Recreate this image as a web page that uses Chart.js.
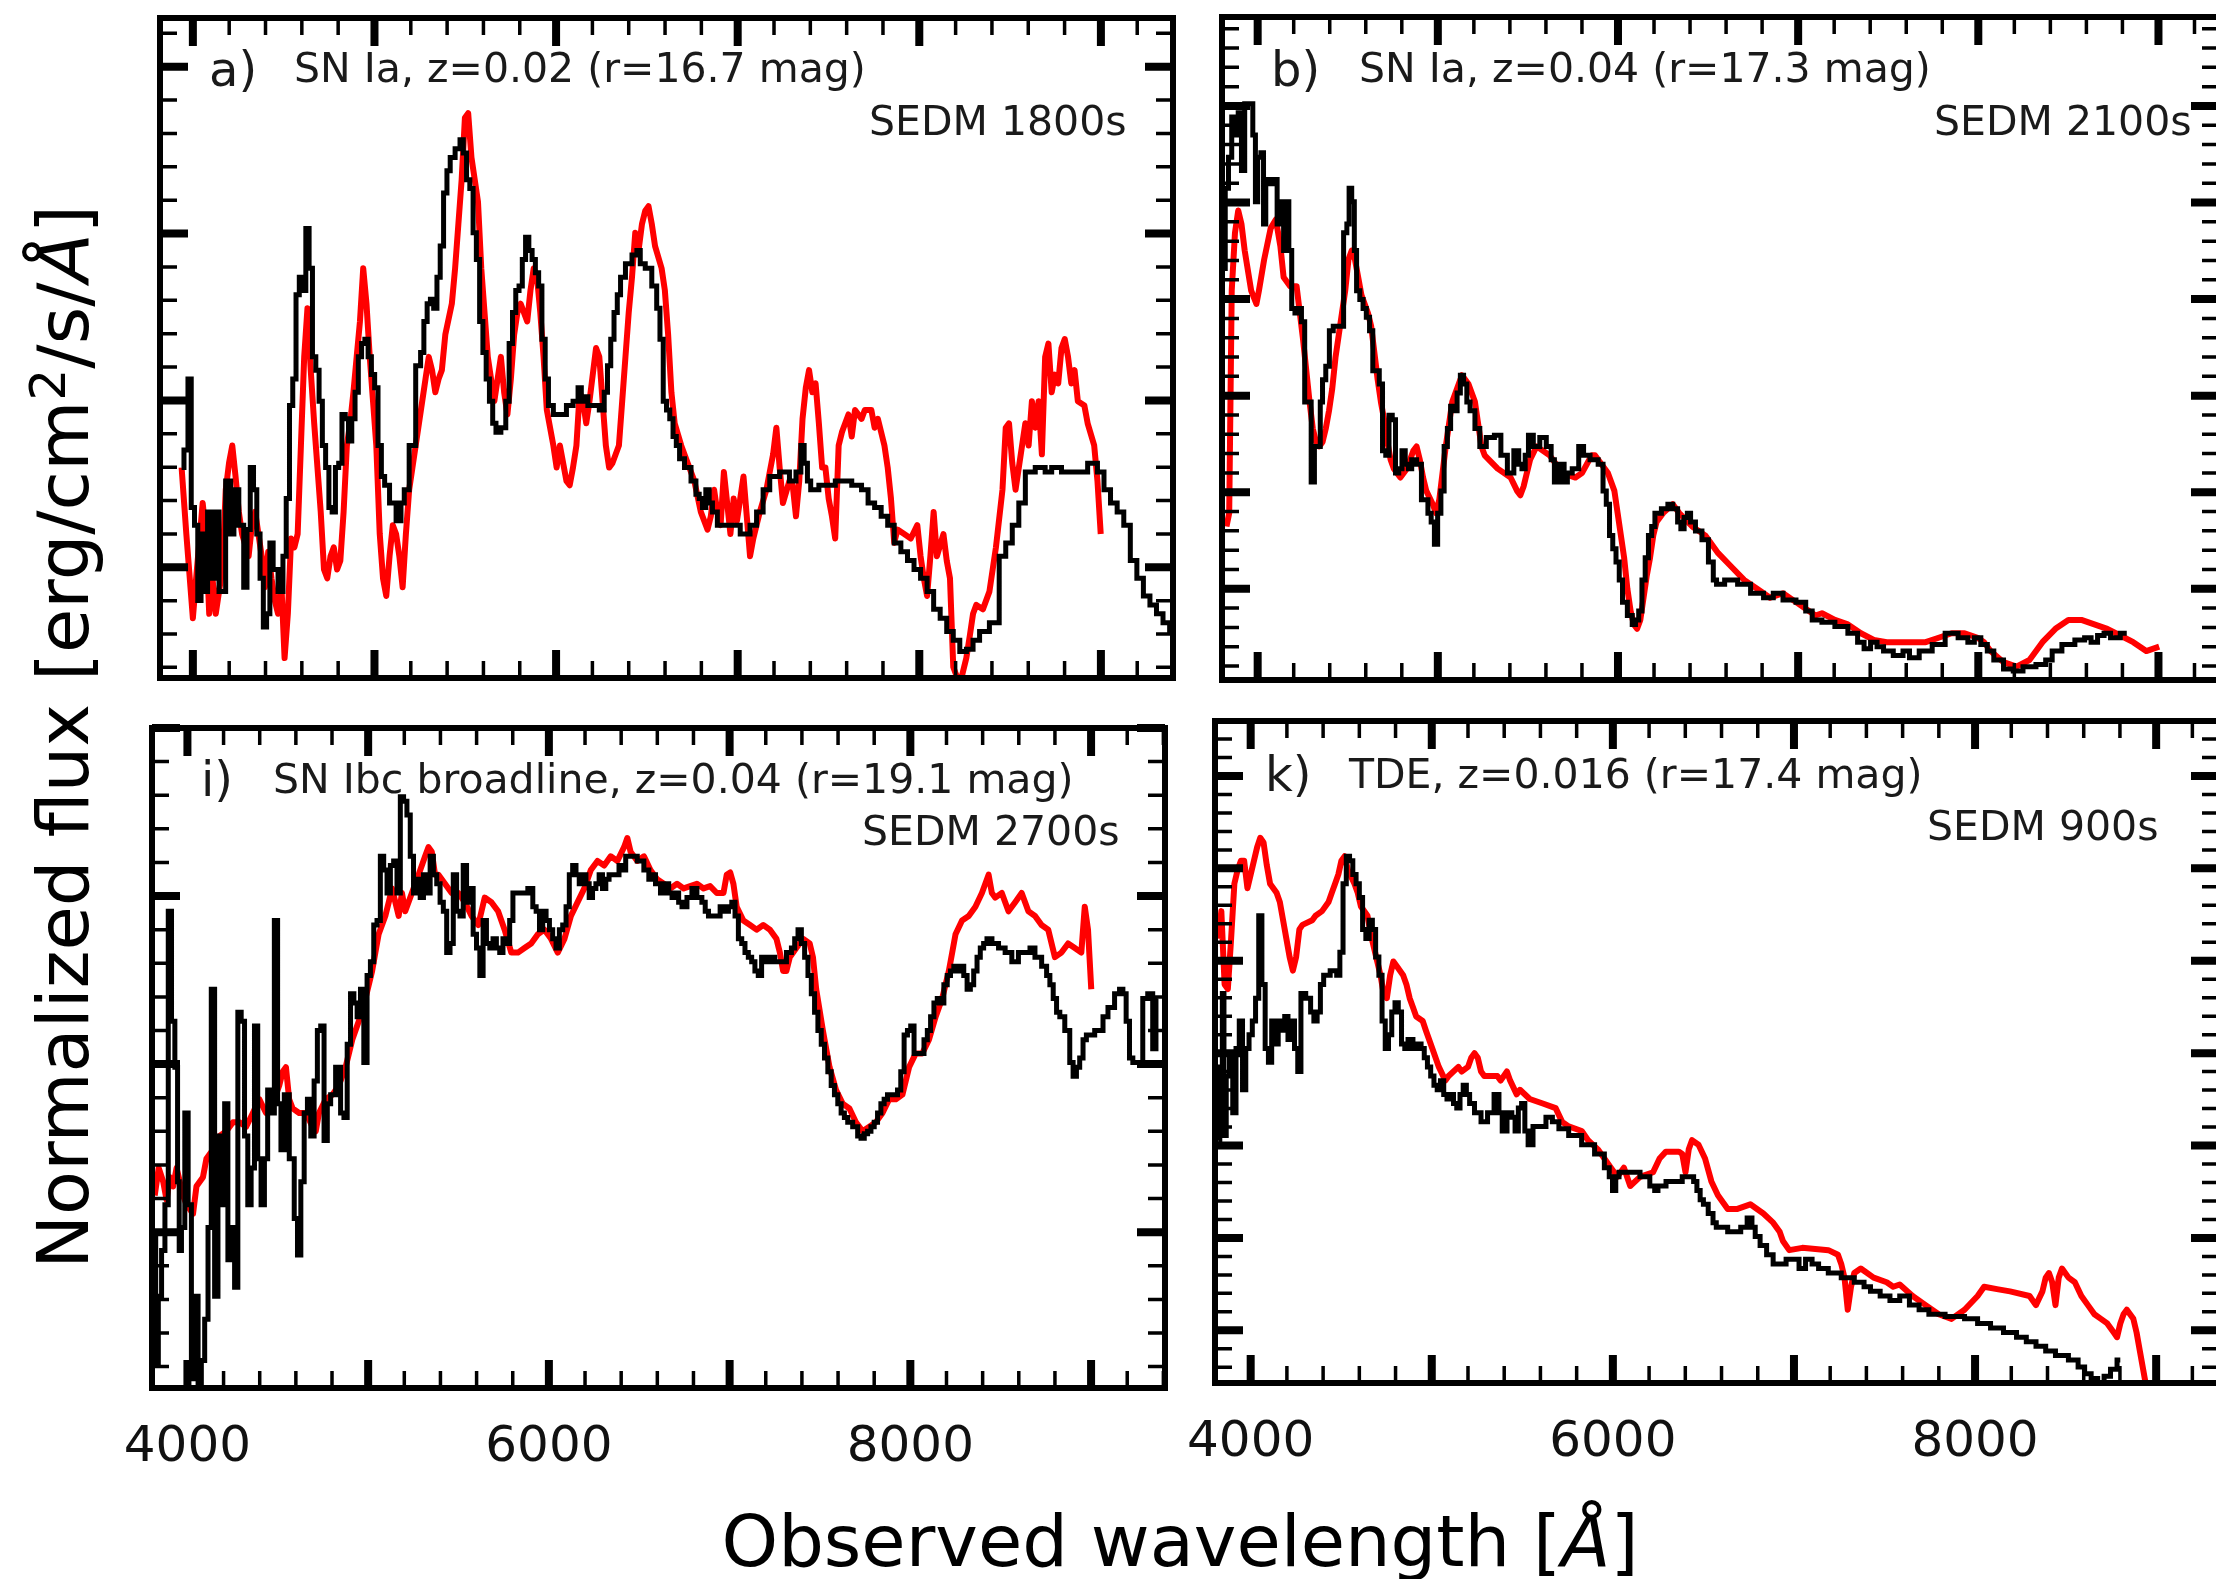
<!DOCTYPE html>
<html><head><meta charset="utf-8">
<script src="https://cdn.jsdelivr.net/npm/chart.js@4.4.1/dist/chart.umd.min.js"></script>
<style>
html,body{margin:0;padding:0;width:2216px;height:1579px;overflow:hidden;background:#fff;}
canvas{position:absolute;}
.t{position:absolute;white-space:nowrap;color:#1a1a1a;font-family:'DejaVu Sans';line-height:1;z-index:5;}
sup{font-size:0.7em;vertical-align:0.45em;line-height:0;}
</style></head><body>
<script>
// ---------------- DATA (wavelength [Å], normalized flux) ----------------
const xTickLabels = [4000, 6000, 8000];

const aSedm = [[3938,0.475],[3964,0.515],[3982,0.675],[4000,0.385],[4018,0.345],[4036,0.175],[4054,0.325],[4072,0.195],[4090,0.375],[4108,0.225],[4126,0.375],[4162,0.195],[4199,0.445],[4217,0.325],[4235,0.425],[4271,0.345],[4289,0.205],[4307,0.335],[4325,0.475],[4343,0.425],[4361,0.325],[4379,0.225],[4397,0.115],[4415,0.145],[4433,0.305],[4451,0.245],[4487,0.195],[4505,0.275],[4523,0.405],[4541,0.615],[4559,0.675],[4577,0.865],[4595,0.905],[4613,0.875],[4631,1.015],[4649,0.925],[4668,0.725],[4686,0.695],[4704,0.625],[4722,0.525],[4740,0.475],[4758,0.385],[4776,0.375],[4794,0.475],[4812,0.485],[4830,0.595],[4848,0.585],[4866,0.535],[4884,0.585],[4902,0.645],[4920,0.725],[4938,0.755],[4956,0.765],[4974,0.725],[4992,0.685],[5010,0.655],[5029,0.525],[5047,0.455],[5065,0.435],[5101,0.395],[5137,0.355],[5155,0.395],[5173,0.425],[5209,0.525],[5245,0.705],[5263,0.735],[5281,0.805],[5299,0.845],[5317,0.855],[5335,0.835],[5353,0.905],[5371,0.975],[5390,1.095],[5408,1.145],[5426,1.175],[5462,1.195],[5480,1.215],[5498,1.185],[5516,1.125],[5534,1.105],[5552,1.005],[5570,0.945],[5588,0.805],[5606,0.735],[5624,0.675],[5642,0.625],[5660,0.575],[5678,0.555],[5714,0.565],[5732,0.625],[5751,0.755],[5769,0.825],[5787,0.875],[5805,0.885],[5823,0.945],[5841,0.995],[5859,0.965],[5877,0.945],[5895,0.915],[5913,0.885],[5931,0.765],[5949,0.675],[5967,0.615],[6003,0.595],[6039,0.595],[6075,0.615],[6112,0.625],[6130,0.655],[6148,0.625],[6166,0.635],[6184,0.615],[6220,0.615],[6256,0.605],[6274,0.645],[6292,0.705],[6310,0.765],[6328,0.825],[6346,0.865],[6364,0.905],[6400,0.935],[6436,0.955],[6454,0.965],[6473,0.935],[6509,0.925],[6545,0.885],[6563,0.835],[6581,0.765],[6599,0.625],[6617,0.605],[6635,0.585],[6653,0.545],[6671,0.525],[6689,0.495],[6725,0.475],[6761,0.445],[6779,0.415],[6797,0.405],[6815,0.385],[6834,0.425],[6852,0.395],[6870,0.375],[6906,0.345],[6978,0.345],[7050,0.325],[7086,0.345],[7122,0.375],[7158,0.425],[7195,0.455],[7267,0.465],[7303,0.445],[7339,0.465],[7357,0.525],[7375,0.485],[7393,0.445],[7411,0.425],[7483,0.435],[7592,0.445],[7664,0.435],[7700,0.425],[7736,0.395],[7772,0.385],[7808,0.365],[7844,0.345],[7880,0.305],[7917,0.285],[7953,0.265],[7989,0.245],[8025,0.225],[8061,0.195],[8097,0.155],[8133,0.135],[8169,0.105],[8205,0.085],[8241,0.060],[8278,0.065],[8314,0.085],[8350,0.105],[8422,0.125],[8458,0.275],[8494,0.305],[8530,0.345],[8566,0.395],[8602,0.465],[8675,0.475],[8711,0.465],[8747,0.475],[8819,0.465],[8891,0.465],[8963,0.485],[8999,0.465],[9035,0.425],[9071,0.395],[9108,0.375],[9144,0.345],[9180,0.265],[9216,0.225],[9252,0.185],[9288,0.165],[9324,0.145],[9360,0.125],[9397,0.105]];

const aModel = [[3938,0.475],[3964,0.325],[4000,0.135],[4018,0.225],[4054,0.395],[4072,0.325],[4090,0.145],[4108,0.225],[4126,0.145],[4162,0.245],[4181,0.425],[4199,0.485],[4217,0.525],[4235,0.455],[4253,0.375],[4271,0.325],[4307,0.275],[4325,0.345],[4343,0.375],[4361,0.325],[4379,0.275],[4397,0.205],[4415,0.285],[4433,0.225],[4451,0.175],[4469,0.145],[4487,0.215],[4505,0.045],[4523,0.145],[4541,0.315],[4559,0.295],[4577,0.325],[4595,0.525],[4613,0.725],[4631,0.835],[4649,0.695],[4668,0.575],[4686,0.475],[4704,0.375],[4722,0.245],[4740,0.225],[4758,0.275],[4776,0.295],[4794,0.245],[4812,0.265],[4830,0.375],[4848,0.525],[4866,0.575],[4884,0.645],[4902,0.725],[4920,0.805],[4938,0.925],[4956,0.845],[4974,0.725],[4992,0.625],[5010,0.525],[5029,0.325],[5047,0.225],[5065,0.185],[5083,0.275],[5101,0.345],[5119,0.325],[5137,0.275],[5155,0.205],[5173,0.325],[5191,0.425],[5209,0.475],[5245,0.575],[5281,0.675],[5299,0.725],[5317,0.695],[5335,0.645],[5353,0.675],[5371,0.695],[5390,0.775],[5426,0.845],[5444,0.925],[5462,1.025],[5480,1.125],[5498,1.265],[5516,1.275],[5534,1.175],[5552,1.125],[5570,1.075],[5588,0.925],[5606,0.825],[5624,0.725],[5660,0.625],[5678,0.675],[5696,0.725],[5714,0.645],[5732,0.595],[5751,0.675],[5769,0.775],[5787,0.825],[5805,0.845],[5841,0.805],[5859,0.875],[5877,0.925],[5895,0.905],[5913,0.825],[5931,0.725],[5949,0.605],[5985,0.525],[6003,0.475],[6021,0.525],[6057,0.445],[6075,0.435],[6093,0.475],[6112,0.525],[6130,0.645],[6148,0.625],[6166,0.575],[6184,0.625],[6220,0.745],[6238,0.725],[6256,0.625],[6274,0.525],[6292,0.475],[6310,0.485],[6346,0.525],[6364,0.625],[6382,0.725],[6400,0.825],[6418,0.905],[6436,1.005],[6454,0.965],[6473,1.025],[6491,1.055],[6509,1.065],[6527,1.025],[6545,0.975],[6581,0.925],[6599,0.875],[6617,0.775],[6635,0.645],[6653,0.575],[6689,0.525],[6725,0.485],[6761,0.445],[6797,0.375],[6834,0.335],[6852,0.365],[6870,0.425],[6888,0.375],[6906,0.345],[6924,0.465],[6942,0.395],[6960,0.325],[6978,0.405],[6996,0.355],[7014,0.405],[7032,0.455],[7050,0.365],[7068,0.275],[7086,0.315],[7122,0.375],[7158,0.425],[7195,0.505],[7213,0.565],[7231,0.475],[7249,0.395],[7285,0.445],[7303,0.435],[7321,0.365],[7339,0.445],[7357,0.585],[7375,0.655],[7393,0.695],[7411,0.645],[7429,0.665],[7447,0.575],[7465,0.475],[7483,0.475],[7501,0.405],[7519,0.365],[7537,0.315],[7556,0.525],[7574,0.555],[7592,0.575],[7610,0.595],[7628,0.545],[7646,0.605],[7682,0.585],[7700,0.605],[7736,0.605],[7754,0.565],[7772,0.585],[7808,0.525],[7826,0.475],[7844,0.405],[7862,0.305],[7880,0.335],[7917,0.325],[7953,0.315],[7989,0.345],[8007,0.275],[8025,0.225],[8043,0.185],[8061,0.275],[8079,0.375],[8097,0.275],[8133,0.325],[8151,0.265],[8169,0.225],[8187,0.025],[8223,-0.015],[8259,0.045],[8278,0.095],[8296,0.145],[8314,0.165],[8350,0.155],[8386,0.195],[8422,0.295],[8458,0.425],[8476,0.565],[8494,0.575],[8512,0.485],[8530,0.425],[8548,0.475],[8584,0.575],[8602,0.525],[8620,0.625],[8639,0.565],[8657,0.625],[8675,0.505],[8693,0.725],[8711,0.755],[8729,0.645],[8747,0.685],[8765,0.665],[8783,0.745],[8801,0.765],[8819,0.725],[8837,0.665],[8855,0.695],[8873,0.625],[8909,0.615],[8927,0.575],[8963,0.525],[8981,0.445],[8999,0.325]];

const bSedm = [[3813,0.925],[3827,1.105],[3849,1.175],[3863,1.265],[3885,1.225],[3899,1.275],[3921,1.145],[3935,1.295],[3964,1.295],[3982,1.225],[3993,1.075],[4007,1.175],[4029,1.185],[4036,1.025],[4054,1.125],[4072,1.115],[4101,1.125],[4115,1.025],[4137,1.075],[4151,0.965],[4166,1.075],[4180,0.965],[4198,0.835],[4216,0.825],[4234,0.835],[4252,0.805],[4270,0.625],[4288,0.625],[4306,0.445],[4324,0.525],[4342,0.525],[4353,0.625],[4367,0.675],[4389,0.705],[4407,0.785],[4432,0.795],[4468,0.795],[4486,1.005],[4504,1.025],[4511,1.105],[4533,1.075],[4540,0.965],[4558,0.875],[4576,0.855],[4594,0.835],[4612,0.815],[4630,0.785],[4648,0.695],[4666,0.695],[4684,0.665],[4702,0.515],[4720,0.505],[4738,0.595],[4756,0.585],[4774,0.465],[4792,0.475],[4810,0.515],[4828,0.485],[4846,0.475],[4864,0.495],[4900,0.485],[4918,0.405],[4936,0.405],[4954,0.375],[4972,0.355],[4990,0.305],[5008,0.375],[5026,0.425],[5044,0.525],[5062,0.565],[5080,0.615],[5098,0.605],[5116,0.645],[5134,0.685],[5152,0.665],[5170,0.625],[5188,0.605],[5224,0.565],[5242,0.525],[5296,0.545],[5332,0.55],[5368,0.505],[5404,0.465],[5440,0.515],[5458,0.485],[5476,0.475],[5494,0.505],[5512,0.55],[5548,0.525],[5584,0.545],[5620,0.525],[5638,0.495],[5656,0.445],[5692,0.485],[5710,0.445],[5728,0.465],[5764,0.475],[5800,0.525],[5818,0.505],[5872,0.495],[5908,0.485],[5926,0.425],[5944,0.395],[5962,0.325],[5980,0.295],[5998,0.265],[6016,0.225],[6034,0.175],[6070,0.145],[6088,0.125],[6106,0.135],[6124,0.155],[6142,0.225],[6160,0.275],[6178,0.325],[6196,0.345],[6214,0.375],[6268,0.385],[6286,0.395],[6322,0.385],[6340,0.355],[6358,0.34],[6376,0.365],[6394,0.375],[6412,0.355],[6448,0.335],[6484,0.315],[6520,0.265],[6538,0.225],[6556,0.215],[6628,0.225],[6700,0.215],[6772,0.195],[6844,0.185],[6880,0.195],[6952,0.18],[7024,0.175],[7060,0.155],[7096,0.135],[7168,0.13],[7240,0.12],[7312,0.105],[7348,0.085],[7384,0.07],[7420,0.085],[7456,0.075],[7492,0.065],[7564,0.055],[7600,0.065],[7636,0.05],[7708,0.065],[7780,0.08],[7852,0.105],[7924,0.095],[7960,0.085],[7996,0.095],[8032,0.08],[8068,0.065],[8104,0.045],[8176,0.025],[8212,0.02],[8284,0.03],[8356,0.035],[8392,0.045],[8428,0.065],[8500,0.08],[8572,0.09],[8608,0.095],[8644,0.085],[8680,0.1],[8716,0.105],[8752,0.095],[8824,0.105]];

const bModel = [[3827,0.345],[3842,0.375],[3849,0.625],[3856,0.875],[3874,1.005],[3892,1.055],[3910,1.025],[3928,0.965],[3964,0.875],[3993,0.845],[4007,0.875],[4036,0.945],[4072,1.015],[4101,1.035],[4126,0.975],[4144,0.905],[4180,0.885],[4216,0.885],[4234,0.825],[4252,0.765],[4270,0.695],[4288,0.625],[4306,0.565],[4324,0.535],[4342,0.525],[4360,0.535],[4378,0.565],[4396,0.605],[4414,0.655],[4432,0.725],[4450,0.775],[4468,0.825],[4486,0.875],[4504,0.945],[4522,0.965],[4540,0.945],[4558,0.905],[4576,0.865],[4612,0.825],[4630,0.795],[4648,0.735],[4666,0.675],[4684,0.625],[4702,0.585],[4720,0.535],[4738,0.495],[4756,0.475],[4792,0.455],[4828,0.475],[4864,0.515],[4882,0.525],[4900,0.495],[4918,0.455],[4936,0.425],[4972,0.395],[4990,0.375],[5008,0.405],[5026,0.465],[5044,0.525],[5062,0.575],[5080,0.625],[5116,0.665],[5134,0.685],[5170,0.665],[5206,0.625],[5224,0.575],[5242,0.525],[5260,0.505],[5332,0.475],[5404,0.455],[5440,0.425],[5458,0.415],[5476,0.435],[5512,0.495],[5548,0.525],[5620,0.505],[5692,0.465],[5764,0.455],[5800,0.465],[5854,0.505],[5872,0.505],[5944,0.465],[5980,0.425],[5998,0.375],[6016,0.325],[6034,0.275],[6052,0.205],[6070,0.155],[6088,0.125],[6106,0.115],[6124,0.135],[6142,0.185],[6160,0.235],[6178,0.275],[6196,0.325],[6214,0.355],[6250,0.375],[6304,0.395],[6340,0.375],[6412,0.345],[6484,0.325],[6520,0.305],[6556,0.285],[6628,0.255],[6700,0.225],[6772,0.205],[6844,0.185],[6916,0.195],[6988,0.175],[7060,0.155],[7096,0.145],[7132,0.15],[7204,0.135],[7276,0.125],[7348,0.105],[7420,0.09],[7492,0.085],[7708,0.085],[7780,0.095],[7852,0.105],[7924,0.105],[7996,0.095],[8032,0.085],[8068,0.065],[8140,0.04],[8212,0.03],[8284,0.045],[8356,0.085],[8428,0.115],[8500,0.135],[8572,0.135],[8644,0.125],[8716,0.115],[8788,0.1],[8860,0.085],[8932,0.065],[8968,0.07],[9004,0.075]];

const iSedm = [[3819,0.33],[3830,0.05],[3848,0.2],[3866,0.3],[3885,0.4],[3903,1.04],[3921,0.8],[3940,0.7],[3951,0.45],[3958,0.3],[3976,0.35],[3995,0.6],[4013,0.4],[4031,0.02],[4050,0.2],[4068,0.0],[4086,0.06],[4105,0.15],[4123,0.35],[4141,0.87],[4160,0.2],[4178,0.55],[4197,0.4],[4215,0.62],[4233,0.28],[4252,0.35],[4270,0.22],[4288,0.82],[4307,0.8],[4325,0.55],[4343,0.4],[4362,0.48],[4380,0.79],[4398,0.5],[4417,0.4],[4435,0.5],[4453,0.65],[4472,0.6],[4490,1.02],[4508,0.62],[4527,0.52],[4545,0.64],[4582,0.5],[4600,0.37],[4618,0.29],[4637,0.45],[4655,0.6],[4673,0.63],[4692,0.55],[4710,0.67],[4728,0.78],[4747,0.79],[4765,0.54],[4783,0.62],[4802,0.64],[4838,0.7],[4857,0.6],[4875,0.59],[4893,0.75],[4912,0.86],[4930,0.84],[4948,0.81],[4967,0.87],[4985,0.71],[5003,0.9],[5022,0.93],[5040,1.01],[5058,1.02],[5077,1.16],[5095,1.13],[5114,1.08],[5132,1.14],[5150,1.15],[5169,1.08],[5187,1.29],[5205,1.28],[5224,1.25],[5242,1.16],[5260,1.08],[5279,1.11],[5297,1.07],[5315,1.12],[5334,1.08],[5352,1.16],[5370,1.12],[5389,1.1],[5407,1.06],[5425,1.04],[5444,0.95],[5462,0.97],[5480,1.12],[5499,1.04],[5517,1.03],[5535,1.14],[5554,1.06],[5572,1.09],[5590,0.99],[5609,0.96],[5627,0.9],[5645,1.02],[5664,0.97],[5682,0.96],[5700,0.98],[5719,0.96],[5737,0.95],[5755,0.98],[5774,0.97],[5792,1.02],[5810,1.08],[5865,1.08],[5902,1.09],[5920,1.05],[5939,1.04],[5957,1.0],[5975,1.04],[5994,1.02],[6012,1.0],[6030,0.98],[6049,0.96],[6067,1.0],[6086,1.01],[6104,1.05],[6122,1.12],[6141,1.14],[6159,1.12],[6177,1.1],[6196,1.12],[6214,1.1],[6232,1.07],[6251,1.09],[6269,1.1],[6287,1.12],[6306,1.09],[6324,1.11],[6342,1.12],[6379,1.12],[6397,1.14],[6416,1.13],[6434,1.16],[6471,1.16],[6507,1.15],[6544,1.13],[6562,1.11],[6581,1.12],[6599,1.1],[6636,1.08],[6654,1.1],[6672,1.08],[6691,1.07],[6709,1.08],[6727,1.06],[6746,1.05],[6782,1.07],[6801,1.09],[6837,1.07],[6856,1.06],[6874,1.04],[6892,1.03],[6929,1.03],[6966,1.05],[6984,1.04],[7003,1.05],[7021,1.06],[7039,1.03],[7058,0.98],[7076,0.97],[7094,0.95],[7113,0.94],[7131,0.93],[7149,0.91],[7168,0.9],[7186,0.94],[7223,0.93],[7241,0.94],[7259,0.93],[7296,0.93],[7333,0.95],[7351,0.96],[7369,0.98],[7388,1.0],[7406,0.97],[7424,0.94],[7443,0.9],[7461,0.86],[7479,0.82],[7498,0.78],[7516,0.75],[7534,0.72],[7553,0.69],[7571,0.66],[7589,0.64],[7608,0.62],[7626,0.6],[7644,0.59],[7663,0.58],[7699,0.57],[7718,0.55],[7736,0.545],[7754,0.555],[7773,0.56],[7791,0.57],[7809,0.58],[7828,0.6],[7846,0.62],[7864,0.63],[7883,0.64],[7920,0.64],[7938,0.65],[7956,0.69],[7975,0.77],[7993,0.78],[8011,0.79],[8030,0.73],[8066,0.73],[8085,0.76],[8103,0.78],[8121,0.81],[8140,0.84],[8158,0.85],[8176,0.84],[8195,0.88],[8213,0.9],[8231,0.91],[8250,0.92],[8268,0.91],[8286,0.92],[8305,0.9],[8323,0.87],[8341,0.88],[8360,0.91],[8378,0.94],[8396,0.96],[8415,0.97],[8433,0.98],[8470,0.97],[8506,0.96],[8543,0.95],[8580,0.93],[8616,0.95],[8653,0.95],[8671,0.96],[8708,0.94],[8745,0.92],[8763,0.9],[8781,0.88],[8800,0.85],[8818,0.82],[8836,0.81],[8873,0.78],[8891,0.71],[8910,0.68],[8928,0.7],[8946,0.72],[8965,0.76],[8983,0.77],[9057,0.78],[9075,0.81],[9112,0.83],[9148,0.86],[9167,0.87],[9185,0.86],[9203,0.8],[9222,0.72],[9240,0.71],[9277,0.71],[9295,0.85],[9332,0.86],[9350,0.74],[9368,0.85]];

const iModel = [[3819,0.42],[3841,0.48],[3866,0.45],[3885,0.41],[3903,0.46],[3921,0.44],[3940,0.48],[3958,0.45],[3976,0.42],[3995,0.4],[4031,0.38],[4050,0.44],[4086,0.46],[4105,0.5],[4141,0.52],[4178,0.55],[4215,0.56],[4252,0.58],[4288,0.58],[4325,0.57],[4362,0.6],[4398,0.63],[4435,0.6],[4472,0.62],[4508,0.66],[4527,0.69],[4545,0.7],[4563,0.63],[4582,0.61],[4618,0.6],[4655,0.6],[4692,0.57],[4710,0.56],[4728,0.6],[4765,0.63],[4802,0.64],[4838,0.66],[4875,0.7],[4912,0.76],[4948,0.8],[4985,0.85],[5022,0.91],[5040,0.95],[5058,0.99],[5095,1.03],[5114,1.06],[5132,1.09],[5169,1.03],[5187,1.08],[5205,1.04],[5242,1.08],[5279,1.12],[5315,1.16],[5334,1.18],[5352,1.17],[5370,1.12],[5389,1.12],[5425,1.1],[5462,1.08],[5499,1.08],[5535,1.06],[5572,1.03],[5609,1.01],[5627,1.04],[5645,1.07],[5682,1.06],[5719,1.04],[5755,1.0],[5792,0.95],[5829,0.95],[5865,0.96],[5902,0.97],[5939,0.99],[5975,1.0],[6012,0.98],[6049,0.95],[6086,0.98],[6122,1.03],[6159,1.06],[6196,1.09],[6232,1.13],[6269,1.15],[6306,1.14],[6342,1.16],[6379,1.15],[6416,1.18],[6434,1.2],[6452,1.17],[6489,1.15],[6526,1.16],[6562,1.13],[6599,1.11],[6636,1.1],[6672,1.09],[6709,1.1],[6746,1.09],[6782,1.095],[6819,1.1],[6856,1.09],[6892,1.095],[6929,1.08],[6966,1.08],[6984,1.12],[7003,1.125],[7021,1.1],[7039,1.05],[7076,1.02],[7113,1.01],[7149,1.0],[7186,1.01],[7223,1.0],[7259,0.98],[7278,0.95],[7296,0.91],[7314,0.91],[7333,0.94],[7369,0.96],[7406,0.98],[7443,0.97],[7461,0.94],[7479,0.87],[7516,0.78],[7553,0.7],[7589,0.65],[7626,0.62],[7663,0.61],[7699,0.58],[7736,0.56],[7773,0.57],[7809,0.58],[7846,0.6],[7883,0.63],[7920,0.63],[7956,0.64],[7993,0.7],[8030,0.73],[8066,0.73],[8103,0.76],[8140,0.81],[8176,0.85],[8213,0.91],[8250,0.99],[8286,1.02],[8323,1.03],[8360,1.05],[8396,1.08],[8433,1.12],[8451,1.08],[8470,1.07],[8506,1.08],[8543,1.04],[8580,1.06],[8616,1.08],[8653,1.04],[8690,1.03],[8726,1.01],[8763,1.0],[8800,0.94],[8836,0.95],[8873,0.97],[8910,0.96],[8946,0.95],[8965,1.05],[8983,1.0],[9001,0.87]];

const kSedm = [[3821,0.53],[3838,0.69],[3849,0.85],[3856,0.54],[3874,0.67],[3892,0.71],[3910,0.59],[3928,0.73],[3946,0.79],[3964,0.64],[3982,0.73],[4000,0.76],[4018,0.79],[4036,0.84],[4053,1.02],[4071,0.87],[4089,0.73],[4107,0.7],[4125,0.79],[4143,0.74],[4161,0.79],[4179,0.77],[4197,0.8],[4215,0.75],[4233,0.79],[4251,0.73],[4269,0.68],[4286,0.85],[4322,0.84],[4340,0.81],[4358,0.79],[4376,0.81],[4394,0.87],[4412,0.89],[4466,0.9],[4484,0.89],[4501,0.94],[4519,1.09],[4537,1.15],[4555,1.14],[4573,1.11],[4591,1.09],[4609,1.06],[4627,0.99],[4645,0.97],[4663,1.01],[4681,0.99],[4699,0.93],[4717,0.89],[4734,0.79],[4752,0.73],[4770,0.76],[4788,0.81],[4806,0.83],[4824,0.81],[4842,0.74],[4860,0.73],[4878,0.75],[4914,0.73],[4932,0.74],[4950,0.73],[4967,0.71],[4985,0.69],[5003,0.67],[5021,0.65],[5039,0.64],[5057,0.66],[5075,0.63],[5093,0.62],[5111,0.63],[5129,0.61],[5147,0.6],[5165,0.63],[5182,0.65],[5200,0.63],[5218,0.61],[5254,0.59],[5290,0.57],[5326,0.59],[5362,0.63],[5380,0.59],[5398,0.55],[5433,0.59],[5451,0.58],[5469,0.55],[5487,0.6],[5505,0.61],[5523,0.55],[5541,0.52],[5577,0.56],[5613,0.56],[5648,0.58],[5684,0.57],[5720,0.555],[5792,0.54],[5863,0.52],[5935,0.5],[5971,0.47],[5989,0.45],[6007,0.42],[6025,0.45],[6043,0.46],[6114,0.46],[6186,0.45],[6222,0.43],[6240,0.42],[6258,0.43],[6329,0.44],[6437,0.45],[6455,0.44],[6473,0.42],[6491,0.4],[6509,0.39],[6544,0.37],[6562,0.35],[6580,0.34],[6688,0.33],[6724,0.34],[6759,0.36],[6777,0.34],[6795,0.32],[6831,0.3],[6867,0.28],[6903,0.26],[6939,0.26],[6974,0.27],[7010,0.27],[7046,0.25],[7082,0.27],[7118,0.26],[7154,0.25],[7225,0.24],[7297,0.23],[7369,0.22],[7405,0.21],[7440,0.2],[7512,0.19],[7548,0.18],[7620,0.19],[7655,0.17],[7727,0.16],[7763,0.15],[7906,0.145],[7978,0.14],[8050,0.13],[8121,0.12],[8193,0.11],[8265,0.1],[8301,0.09],[8372,0.08],[8408,0.07],[8480,0.06],[8551,0.05],[8587,0.035],[8623,0.02],[8659,0.01],[8695,-0.02],[8730,0.015],[8766,0.03],[8802,0.05]];

const kModel = [[3821,0.97],[3838,1.03],[3856,0.87],[3874,0.86],[3892,0.97],[3910,1.09],[3928,1.12],[3946,1.14],[3964,1.14],[3982,1.08],[4000,1.11],[4018,1.14],[4036,1.17],[4053,1.19],[4071,1.18],[4089,1.13],[4107,1.09],[4125,1.08],[4143,1.07],[4161,1.05],[4179,1.01],[4197,0.97],[4215,0.93],[4233,0.9],[4251,0.93],[4269,0.99],[4286,1.0],[4340,1.01],[4358,1.02],[4394,1.03],[4430,1.05],[4448,1.07],[4466,1.09],[4484,1.11],[4501,1.14],[4519,1.15],[4537,1.12],[4573,1.09],[4591,1.07],[4609,1.04],[4645,1.02],[4663,0.98],[4681,0.95],[4699,0.92],[4717,0.89],[4734,0.85],[4752,0.84],[4770,0.89],[4788,0.92],[4806,0.91],[4842,0.89],[4860,0.87],[4878,0.84],[4896,0.82],[4914,0.8],[4950,0.79],[4967,0.77],[5003,0.73],[5039,0.69],[5075,0.66],[5093,0.67],[5147,0.69],[5165,0.68],[5200,0.69],[5218,0.71],[5236,0.72],[5254,0.71],[5272,0.68],[5290,0.67],[5362,0.67],[5380,0.66],[5415,0.68],[5433,0.66],[5469,0.63],[5487,0.64],[5541,0.62],[5613,0.61],[5684,0.6],[5720,0.57],[5756,0.56],[5828,0.55],[5863,0.53],[5917,0.51],[5953,0.49],[5989,0.47],[6025,0.45],[6061,0.47],[6096,0.43],[6150,0.45],[6222,0.46],[6258,0.49],[6293,0.505],[6365,0.505],[6383,0.5],[6401,0.46],[6419,0.51],[6437,0.53],[6473,0.52],[6509,0.49],[6544,0.44],[6580,0.41],[6634,0.38],[6688,0.38],[6759,0.39],[6831,0.37],[6885,0.35],[6921,0.33],[6939,0.31],[6974,0.29],[7046,0.295],[7190,0.29],[7243,0.28],[7261,0.26],[7279,0.23],[7297,0.16],[7315,0.21],[7333,0.24],[7369,0.25],[7440,0.23],[7512,0.22],[7548,0.21],[7584,0.215],[7655,0.19],[7727,0.17],[7799,0.15],[7870,0.14],[7942,0.16],[8014,0.19],[8050,0.21],[8121,0.205],[8193,0.2],[8301,0.19],[8336,0.17],[8372,0.2],[8390,0.23],[8408,0.24],[8426,0.22],[8444,0.17],[8462,0.23],[8480,0.25],[8516,0.23],[8551,0.22],[8587,0.19],[8623,0.17],[8659,0.15],[8695,0.14],[8730,0.13],[8766,0.11],[8784,0.1],[8802,0.13],[8820,0.15],[8838,0.16],[8874,0.14],[8892,0.11],[8910,0.07],[8928,0.03],[8946,-0.01]];

// y major tick values (no labels in the figure)
const aYTicks = [0.25, 0.627, 1.003, 1.38];
const bYTicks = [0.205, 0.425, 0.64, 0.86, 1.075, 1.29];
const iYTicks = [0.34, 0.71, 1.075, 1.44];
const kYTicks = [0.115, 0.315, 0.52, 0.72, 0.925, 1.125, 1.325];

// ---------------- LAYOUT ----------------
const panels = [
  {sedm:aSedm, model:aModel, yTicks:aYTicks, L:160,  T:18,  R:1173, B:678,  xMin:3819, xMax:9397, yMax:1.49,  showX:false},
  {sedm:bSedm, model:bModel, yTicks:bYTicks, L:1222, T:17,  R:2219, B:680,  xMin:3802, xMax:9336, yMax:1.49,  showX:false},
  {sedm:iSedm, model:iModel, yTicks:iYTicks, L:152,  T:728, R:1165, B:1388, xMin:3804, xMax:9409, yMax:1.44,  showX:true},
  {sedm:kSedm, model:kModel, yTicks:kYTicks, L:1215, T:721, R:2219, B:1383, xMin:3803, xMax:9347, yMax:1.445, showX:true}
];

const toXY = arr => arr.map(p => ({x:p[0], y:p[1]}));

function makePanel(cfg){
  const m = 40, axisH = 100;
  const w = cfg.R - cfg.L + 2*m;
  const h = cfg.B - cfg.T + m + (cfg.showX ? axisH : m);
  const cv = document.createElement('canvas');
  cv.width = w; cv.height = h;
  cv.style.left = (cfg.L - m) + 'px'; cv.style.top = (cfg.T - m) + 'px';
  cv.style.width = w + 'px'; cv.style.height = h + 'px';
  document.body.appendChild(cv);

  const frame = {
    id:'frame',
    afterDraw(chart){
      const {ctx, chartArea:{left,right,top,bottom}, scales:{x,y}} = chart;
      ctx.save();
      ctx.strokeStyle = '#000'; ctx.lineCap = 'butt';
      for (let v = Math.ceil(x.min/200)*200; v <= x.max; v += 200){
        const major = v % 1000 === 0;
        const px = x.getPixelForValue(v);
        const len = major ? 28 : 17;
        ctx.lineWidth = major ? 8 : 3.5;
        ctx.beginPath();
        ctx.moveTo(px, bottom); ctx.lineTo(px, bottom - len);
        ctx.moveTo(px, top); ctx.lineTo(px, top + len);
        ctx.stroke();
      }
      const t = cfg.yTicks, step = (t[t.length-1]-t[0])/(t.length-1)/5;
      const ys = [];
      for (let v = t[0]; v >= y.min; v -= step) ys.push(v);
      for (let v = t[0]+step; v <= y.max + 1e-6; v += step) ys.push(v);
      ys.forEach(v => {
        const major = t.some(mv => Math.abs(mv - v) < step/2.5);
        const py = y.getPixelForValue(v);
        const len = major ? 28 : 17;
        ctx.lineWidth = major ? 8 : 3.5;
        ctx.beginPath();
        ctx.moveTo(left, py); ctx.lineTo(left + len, py);
        ctx.moveTo(right, py); ctx.lineTo(right - len, py);
        ctx.stroke();
      });
      ctx.lineWidth = 6;
      ctx.strokeRect(left, top, right-left, bottom-top);
      ctx.restore();
    }
  };

  const xScale = {type:'linear', min:cfg.xMin, max:cfg.xMax, display:cfg.showX, position:'bottom',
     grid:{display:false, drawTicks:false}, border:{display:false},
     afterBuildTicks: s => { s.ticks = xTickLabels.map(v => ({value:v})); },
     ticks:{font:{family:'DejaVu Sans', size:50}, color:'#111', padding:30, maxRotation:0, autoSkip:false,
            callback: v => String(v)}};
  if (cfg.showX) xScale.afterFit = s => { s.height = axisH; s.paddingLeft = 0; s.paddingRight = 0; };

  new Chart(cv, {
    type:'line',
    data:{datasets:[
      {data:toXY(cfg.sedm), borderColor:'#000', borderWidth:5, stepped:'middle', pointRadius:0, fill:false},
      {data:toXY(cfg.model), borderColor:'#ff0000', borderWidth:6, pointRadius:0, fill:false, tension:0, borderJoinStyle:'round'}
    ]},
    options:{
      responsive:false, animation:false, devicePixelRatio:1, events:[],
      layout:{padding:{left:m, right:m, top:m, bottom: cfg.showX ? 0 : m}},
      plugins:{legend:{display:false}, tooltip:{enabled:false}},
      scales:{
        x:xScale,
        y:{type:'linear', min:0, max:cfg.yMax, display:false}
      }
    },
    plugins:[frame]
  });
}
panels.forEach(makePanel);

// ---------------- TEXT ----------------
function txt(html, left, baseline, size){
  const d = document.createElement('div');
  d.className = 't';
  d.innerHTML = html;
  d.style.fontSize = size + 'px';
  d.style.left = left + 'px';
  d.style.top = (baseline - 0.846*size) + 'px';
  document.body.appendChild(d);
}
txt('a)', 209, 86, 48);
txt('SN Ia, z=0.02 (r=16.7 mag)', 294, 83, 41);
txt('SEDM 1800s', 869, 136, 41);
txt('b)', 1271, 86, 48);
txt('SN Ia, z=0.04 (r=17.3 mag)', 1359, 83, 41);
txt('SEDM 2100s', 1934, 136, 41);
txt('i)', 201, 796, 48);
txt('SN Ibc broadline, z=0.04 (r=19.1 mag)', 273, 794, 41);
txt('SEDM 2700s', 862, 846, 41);
txt('k)', 1265, 791, 48);
txt('TDE, z=0.016 (r=17.4 mag)', 1349, 789, 41);
txt('SEDM 900s', 1927, 841, 41);

// axis titles
const xt = document.createElement('div');
xt.className = 't';
xt.style.fontSize = '72px';
xt.style.left = '1180px';
xt.style.top = (1566 - 0.846*72) + 'px';
xt.style.transform = 'translateX(-50%)';
xt.style.color = '#000';
xt.innerHTML = 'Observed wavelength [<i>Å</i>]';
document.body.appendChild(xt);

const yt = document.createElement('div');
yt.className = 't';
yt.style.fontSize = '72px';
yt.style.left = '63px';
yt.style.top = '737px';
yt.style.transform = 'translate(-50%,-50%) rotate(-90deg)';
yt.style.color = '#000';
yt.innerHTML = 'Normalized flux [erg/cm<sup>2</sup>/s/<i>Å</i>]';
document.body.appendChild(yt);
</script>
</body></html>
